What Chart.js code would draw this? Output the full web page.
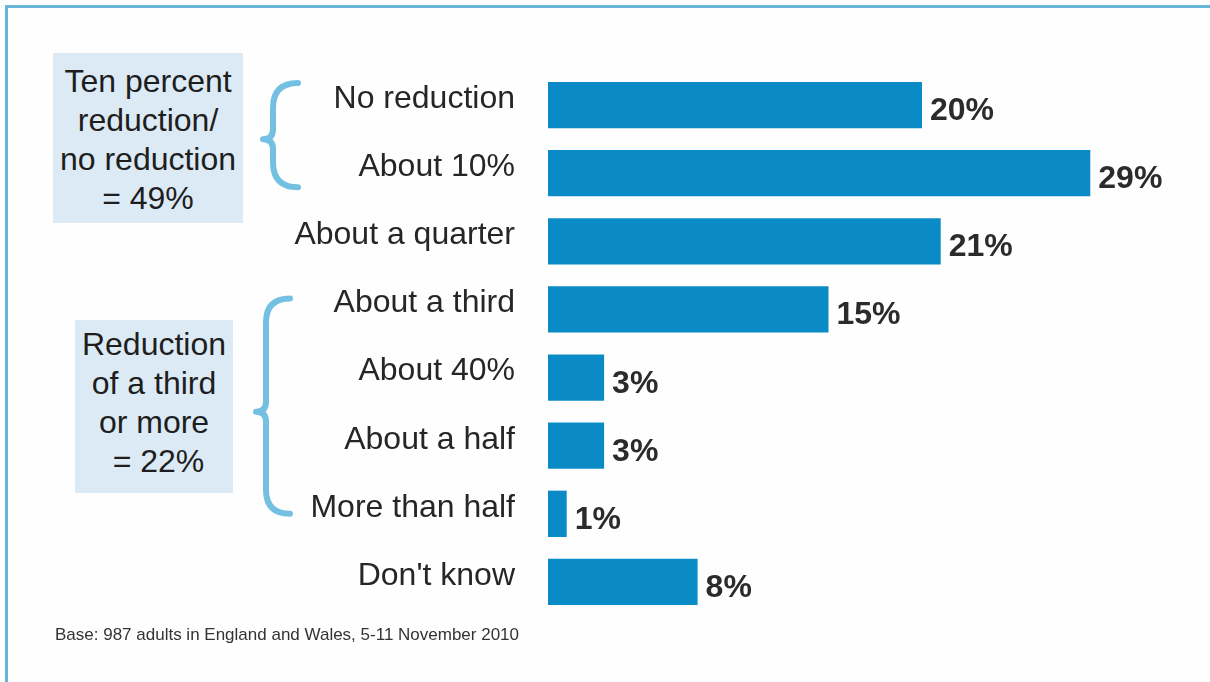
<!DOCTYPE html>
<html>
<head>
<meta charset="utf-8">
<script src="https://cdn.jsdelivr.net/npm/chart.js@4"></script>
<style>
  html, body { margin: 0; padding: 0; background: #ffffff; }
  #wrap { position: relative; width: 1210px; height: 682px; overflow: hidden; background: #fefefe; }
  #frame { position: absolute; left: 5px; top: 5px; right: -10px; bottom: -10px; border-top: 3px solid #68b5d7; border-left: 3px solid #68b5d7; }
  canvas { position: absolute; left: 0; top: 0; }
  .note { position: absolute; background: #dceaf5; font-family: "Liberation Sans", Arial, sans-serif; font-size: 32px; line-height: 39px; color: #1e1e1e; text-align: center; box-sizing: border-box; }
  #foot { position: absolute; left: 55px; top: 625px; font-family: "Liberation Sans", Arial, sans-serif; font-size: 17px; color: #333; }
</style>
</head>
<body>
<div id="wrap">
  <div id="frame"></div>
  <canvas id="c" width="1210" height="682"></canvas>
  <div class="note" id="note1" style="left:53px; top:53px; width:190px; height:170px; padding-top:9px;"></div>
  <div class="note" id="note2" style="left:75px; top:320px; width:158px; height:173px; padding-top:5px;"></div>
  <div id="foot"></div>
</div>
<script>
const categories = ["No reduction", "About 10%", "About a quarter", "About a third", "About 40%", "About a half", "More than half", "Don't know"];
const values = [20, 29, 21, 15, 3, 3, 1, 8];
const group1Lines = ["Ten percent", "reduction/", "no reduction", "= 49%"];
const group2Lines = ["Reduction", "of a third", "or more", "\u00a0= 22%"];
const group1Range = [0, 1];
const group2Range = [3, 6];
const footnote = "Base: 987 adults in England and Wales, 5-11 November 2010";

document.getElementById('note1').innerHTML = group1Lines.join('<br>');
document.getElementById('note2').innerHTML = group2Lines.join('<br>');
document.getElementById('foot').textContent = footnote;

const FONT = '"Liberation Sans", Arial, sans-serif';

function drawBrace(ctx, xR, xS, xT, yTop, yBot, yMid) {
  const r = xR - xS, t = xS - xT;
  ctx.beginPath();
  ctx.moveTo(xR, yTop);
  ctx.quadraticCurveTo(xS, yTop, xS, yTop + r);
  ctx.lineTo(xS, yMid - t);
  ctx.quadraticCurveTo(xS, yMid, xT, yMid);
  ctx.quadraticCurveTo(xS, yMid, xS, yMid + t);
  ctx.lineTo(xS, yBot - r);
  ctx.quadraticCurveTo(xS, yBot, xR, yBot);
  ctx.stroke();
}

const extras = {
  id: 'extras',
  afterDatasetsDraw(chart) {
    const ctx = chart.ctx;
    const meta = chart.getDatasetMeta(0);
    ctx.save();
    ctx.font = 'bold 32px ' + FONT;
    ctx.fillStyle = '#2b2b2b';
    ctx.textAlign = 'left';
    ctx.textBaseline = 'alphabetic';
    meta.data.forEach((bar, i) => {
      ctx.fillText(values[i] + '%', bar.x + 8, bar.y + 15);
    });
    ctx.restore();

    const ys = chart.scales.y;
    ctx.save();
    ctx.strokeStyle = '#74c0e2';
    ctx.lineWidth = 6;
    ctx.lineCap = 'round';
    ctx.lineJoin = 'round';
    const a0 = ys.getPixelForValue(group1Range[0]), a1 = ys.getPixelForValue(group1Range[1]);
    drawBrace(ctx, 298, 273, 263, a0 - 22, a1 + 14, (a0 + a1) / 2);
    const b0 = ys.getPixelForValue(group2Range[0]), b1 = ys.getPixelForValue(group2Range[1]);
    drawBrace(ctx, 290, 266, 256, b0 - 11, b1 + 0, (b0 + b1) / 2);
    ctx.restore();
  }
};

new Chart(document.getElementById('c'), {
  type: 'bar',
  data: {
    labels: categories,
    datasets: [{
      data: values,
      backgroundColor: '#0a8bc5',
      borderWidth: 0,
      barPercentage: 0.68,
      categoryPercentage: 1.0
    }]
  },
  options: {
    indexAxis: 'y',
    responsive: false,
    animation: false,
    layout: { padding: { top: 71, bottom: 66, left: 0, right: 101 } },
    plugins: { legend: { display: false }, tooltip: { enabled: false } },
    scales: {
      x: { display: false, min: 0, max: 30 },
      y: {
        afterFit(s) { s.width = 548; },
        grid: { display: false, drawTicks: false },
        border: { display: false },
        ticks: {
          color: '#262626',
          font: { family: FONT, size: 32 },
          padding: 33,
          labelOffset: -6
        }
      }
    }
  },
  plugins: [extras]
});
</script>
</body>
</html>
